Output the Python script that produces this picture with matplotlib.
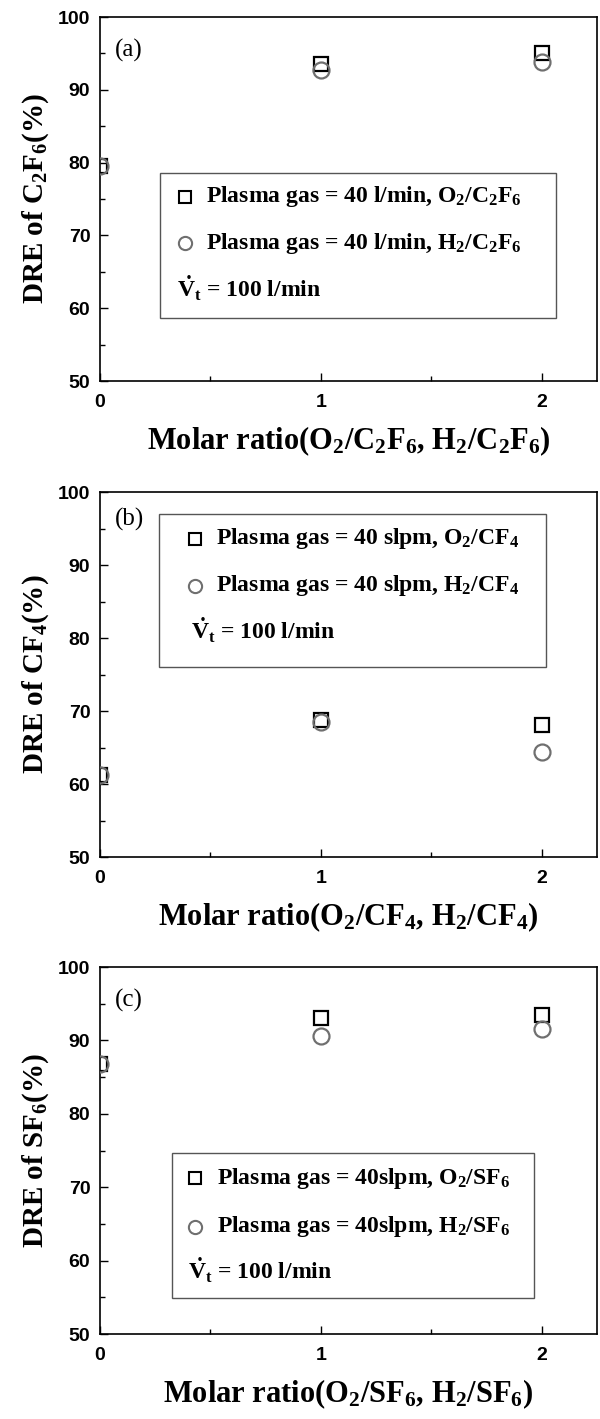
import matplotlib
matplotlib.use("Agg")
import matplotlib.pyplot as plt
from matplotlib.patches import Rectangle
from matplotlib.ticker import MultipleLocator, FixedLocator

# serif bold for labels, subscripts through mathtext
plt.rcParams['mathtext.fontset'] = 'custom'
plt.rcParams['mathtext.rm'] = 'Liberation Serif:bold'
plt.rcParams['mathtext.bf'] = 'Liberation Serif:bold'
plt.rcParams['mathtext.it'] = 'Liberation Serif:bold'
plt.rcParams['mathtext.default'] = 'rm'

SERIF = 'Liberation Serif'
SANS = 'Liberation Sans'
GREY = '#6f6f6f'

molar_ratio = [0, 1, 2]

# DRE (%) vs molar ratio, O2 addition (squares) and H2 addition (circles)
c2f6_o2 = [79.5, 93.6, 95.1]
c2f6_h2 = [79.5, 92.7, 93.8]
cf4_o2 = [61.3, 68.8, 68.1]
cf4_h2 = [61.3, 68.5, 64.4]
sf6_o2 = [86.8, 93.0, 93.4]
sf6_h2 = [86.8, 90.6, 91.6]

ylabels = ['DRE of C$_2$F$_6$(%)', 'DRE of CF$_4$(%)', 'DRE of SF$_6$(%)']
xlabels = ['Molar ratio(O$_2$/C$_2$F$_6$, H$_2$/C$_2$F$_6$)',
           'Molar ratio(O$_2$/CF$_4$, H$_2$/CF$_4$)',
           'Molar ratio(O$_2$/SF$_6$, H$_2$/SF$_6$)']
panel_tags = ['(a)', '(b)', '(c)']
key_o2 = ['Plasma gas = 40 l/min, O$_2$/C$_2$F$_6$',
          'Plasma gas = 40 slpm, O$_2$/CF$_4$',
          'Plasma gas = 40slpm, O$_2$/SF$_6$']
key_h2 = ['Plasma gas = 40 l/min, H$_2$/C$_2$F$_6$',
          'Plasma gas = 40 slpm, H$_2$/CF$_4$',
          'Plasma gas = 40slpm, H$_2$/SF$_6$']
key_flow = r'$\dot{\mathrm{V}}_\mathrm{t}$ = 100 l/min'

o2_series = [c2f6_o2, cf4_o2, sf6_o2]
h2_series = [c2f6_h2, cf4_h2, sf6_h2]

# axes rectangles in figure fraction
axes_rects = [
    [0.1667, 0.7315, 0.8283, 0.2565],
    [0.1667, 0.3960, 0.8283, 0.2572],
    [0.1667, 0.0599, 0.8283, 0.2586],
]
# key box: (x0, y0, x1, y1), row heights, marker x, text x, flow text x
key_layout = [
    dict(box=(0.120, 0.174, 0.917, 0.572), rows=(0.506, 0.378, 0.254), mx=0.170, tx=0.213, vx=0.155),
    dict(box=(0.118, 0.522, 0.898, 0.940), rows=(0.872, 0.744, 0.622), mx=0.192, tx=0.234, vx=0.183),
    dict(box=(0.145, 0.098, 0.874, 0.492), rows=(0.425, 0.292, 0.174), mx=0.192, tx=0.236, vx=0.178),
]
tag_y = [0.908, 0.926, 0.910]

fig = plt.figure(figsize=(6.0, 14.19), dpi=100)

for i in range(3):
    ax = fig.add_axes(axes_rects[i])
    ax.plot(molar_ratio, o2_series[i], linestyle='none', marker='s', markersize=10,
            markerfacecolor='none', markeredgecolor='black', markeredgewidth=1.6, zorder=3)
    ax.plot(molar_ratio, h2_series[i], linestyle='none', marker='o', markersize=11.5,
            markerfacecolor='none', markeredgecolor=GREY, markeredgewidth=1.6, zorder=4)

    ax.set_xlim(0, 2.25)
    ax.set_ylim(50, 100)
    ax.xaxis.set_major_locator(FixedLocator([0, 1, 2]))
    ax.xaxis.set_minor_locator(FixedLocator([0.5, 1.5]))
    ax.yaxis.set_major_locator(MultipleLocator(10))
    ax.yaxis.set_minor_locator(MultipleLocator(5))
    ax.tick_params(which='both', direction='in', top=False, right=False, width=1.0)
    ax.tick_params(which='major', length=6)
    ax.tick_params(which='minor', length=3.5)
    ax.tick_params(axis='x', pad=9)
    ax.tick_params(axis='y', pad=7)
    for lab in ax.get_xticklabels() + ax.get_yticklabels():
        lab.set_fontfamily(SANS)
        lab.set_fontweight('bold')
        lab.set_fontsize(14)
    for sp in ax.spines.values():
        sp.set_linewidth(1.2)

    ax.set_ylabel(ylabels[i], fontfamily=SERIF, fontweight='bold', fontsize=21, labelpad=5)
    ax.set_xlabel(xlabels[i], fontfamily=SERIF, fontweight='bold', fontsize=22, labelpad=10)

    ax.text(0.03, tag_y[i], panel_tags[i], transform=ax.transAxes, fontfamily=SERIF,
            fontsize=18, va='center', ha='left')

    # key box with two marker rows and the total flow line
    k = key_layout[i]
    x0, y0, x1, y1 = k['box']
    ax.add_patch(Rectangle((x0, y0), x1 - x0, y1 - y0, transform=ax.transAxes,
                           facecolor='white', edgecolor='#555555', linewidth=1.0, zorder=5))
    ax.plot([k['mx']], [k['rows'][0]], transform=ax.transAxes, marker='s', markersize=8.5,
            markerfacecolor='none', markeredgecolor='black', markeredgewidth=1.5, zorder=6)
    ax.plot([k['mx']], [k['rows'][1]], transform=ax.transAxes, marker='o', markersize=9.5,
            markerfacecolor='none', markeredgecolor=GREY, markeredgewidth=1.5, zorder=6)
    ax.text(k['tx'], k['rows'][0], key_o2[i], transform=ax.transAxes, fontfamily=SERIF,
            fontweight='bold', fontsize=17, va='center', ha='left', zorder=6)
    ax.text(k['tx'], k['rows'][1], key_h2[i], transform=ax.transAxes, fontfamily=SERIF,
            fontweight='bold', fontsize=17, va='center', ha='left', zorder=6)
    ax.text(k['vx'], k['rows'][2], key_flow, transform=ax.transAxes, fontfamily=SERIF,
            fontweight='bold', fontsize=17, va='center', ha='left', zorder=6)

fig.savefig('out.png', dpi=100)
